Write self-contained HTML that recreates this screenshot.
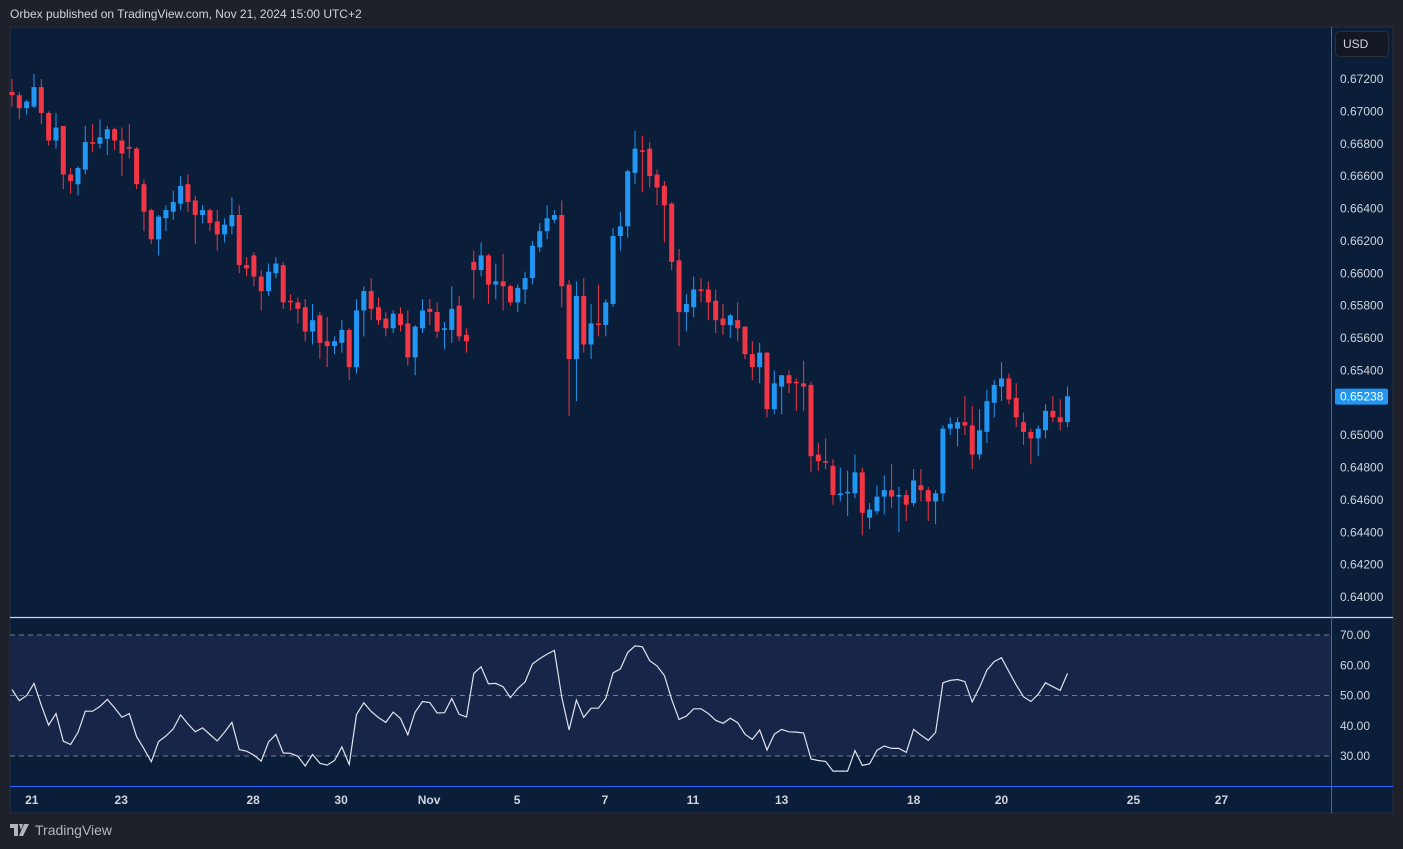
<!DOCTYPE html>
<html><head><meta charset="utf-8"><style>
html,body{margin:0;padding:0;background:#1e2129;width:1403px;height:849px;overflow:hidden;font-family:"Liberation Sans",sans-serif;}
#hdr{position:absolute;left:10px;top:7px;font-size:12px;color:#d1d4dc;}
#brand{position:absolute;left:10px;top:822px;font-size:14px;color:#b2b5be;display:flex;align-items:center;gap:5px;}
svg{position:absolute;left:0;top:0;}
</style></head><body>
<div id="hdr">Orbex published on TradingView.com, Nov 21, 2024 15:00 UTC+2</div>
<div id="brand"><svg style="position:static" width="20" height="12" viewBox="0 0 20 12"><path d="M0 0h8v12H4V4H0z M9 0h4l-2 6z M14 0h5l-6 12h-4z" fill="#b2b5be"/></svg>TradingView</div>
<svg id="chart" width="1403" height="849"></svg>
<script>
const opens=[6712,6710,6702,6703,6715,6699,6682,6691,6661,6655,6664,6681,6680,6683,6689,6682,6678,6677,6655,6639,6621,6634,6638,6643,6655,6645,6636,6639,6632,6624,6629,6636,6605,6611,6598,6589,6600,6605,6583,6582,6579,6564,6574,6558,6555,6557,6565,6542,6577,6589,6579,6572,6566,6575,6569,6548,6566,6578,6576,6565,6565,6580,6562,6607,6602,6611,6593,6595,6592,6582,6590,6597,6616,6626,6633,6636,6593,6547,6586,6556,6569,6568,6581,6623,6629,6662,6676,6677,6661,6654,6643,6608,6576,6579,6590,6590,6583,6572,6568,6571,6567,6550,6542,6551,6516,6530,6537,6533,6532,6531,6488,6484,6481,6463,6464,6464,6477,6449,6453,6462,6466,6462,6463,6458,6469,6466,6459,6464,6504,6504,6508,6506,6488,6502,6520,6530,6535,6523,6508,6502,6498,6503,6515,6511,6508];
const highs=[6720,6712,6707,6723,6720,6700,6699,6691,6665,6666,6691,6692,6695,6691,6690,6690,6692,6678,6658,6640,6636,6642,6651,6660,6661,6648,6642,6640,6639,6634,6647,6642,6610,6613,6602,6606,6610,6607,6587,6585,6584,6581,6576,6573,6561,6571,6566,6584,6592,6597,6585,6576,6577,6579,6577,6568,6584,6584,6582,6570,6592,6586,6566,6614,6619,6612,6606,6612,6593,6593,6601,6620,6631,6642,6639,6645,6596,6595,6597,6581,6593,6584,6628,6638,6664,6688,6685,6681,6664,6657,6644,6615,6587,6598,6597,6595,6590,6581,6575,6582,6567,6558,6557,6551,6540,6537,6540,6535,6546,6533,6495,6498,6485,6480,6478,6488,6480,6458,6469,6475,6482,6468,6466,6479,6479,6468,6466,6506,6511,6511,6524,6518,6516,6528,6534,6545,6538,6532,6514,6504,6506,6519,6524,6522,6530];
const lows=[6703,6695,6698,6702,6692,6679,6677,6652,6649,6648,6661,6675,6677,6673,6676,6660,6671,6652,6626,6618,6611,6626,6633,6639,6638,6618,6631,6626,6614,6619,6624,6600,6598,6592,6577,6586,6597,6578,6577,6569,6558,6556,6547,6542,6550,6551,6534,6538,6561,6571,6568,6561,6563,6564,6543,6537,6563,6568,6560,6553,6557,6558,6551,6584,6598,6581,6584,6577,6580,6576,6581,6593,6613,6621,6631,6579,6512,6521,6551,6547,6561,6561,6579,6614,6622,6655,6650,6653,6642,6619,6602,6555,6564,6573,6582,6571,6563,6562,6560,6558,6547,6534,6532,6511,6513,6513,6526,6515,6515,6477,6478,6479,6457,6459,6450,6461,6438,6442,6451,6451,6455,6440,6447,6456,6459,6447,6445,6459,6500,6493,6500,6479,6485,6495,6511,6521,6519,6505,6494,6482,6487,6498,6508,6503,6505];
const closes=[6710,6702,6706,6715,6699,6682,6690,6661,6657,6665,6681,6680,6684,6689,6682,6674,6677,6655,6638,6621,6635,6639,6644,6654,6644,6636,6639,6631,6624,6630,6636,6605,6603,6598,6589,6601,6606,6582,6582,6578,6564,6571,6557,6555,6558,6565,6542,6577,6589,6578,6571,6566,6575,6568,6548,6567,6577,6576,6564,6566,6578,6561,6558,6602,6611,6593,6595,6592,6582,6591,6597,6617,6626,6634,6636,6592,6547,6586,6556,6569,6568,6582,6623,6629,6663,6677,6675,6660,6653,6642,6607,6576,6581,6590,6589,6582,6571,6568,6574,6566,6550,6542,6551,6516,6532,6537,6532,6532,6530,6487,6484,6483,6463,6464,6465,6477,6452,6454,6462,6466,6462,6463,6457,6472,6466,6459,6464,6504,6507,6508,6506,6488,6503,6521,6531,6535,6522,6511,6502,6498,6504,6515,6511,6508,6524];
const rsi=[52.0,48.3,50.0,54.0,46.8,40.2,44.0,34.9,33.8,37.8,44.8,44.8,46.4,48.7,45.9,42.8,44.0,36.4,32.4,28.1,34.8,36.6,39.0,43.6,40.6,38.0,39.3,37.1,35.0,37.9,41.1,32.1,31.6,30.3,28.3,34.7,37.1,31.0,30.9,29.9,26.7,30.5,27.6,27.0,28.5,33.0,27.2,43.7,47.6,44.7,42.7,41.1,44.5,42.4,37.0,44.5,48.0,47.7,44.2,44.3,49.0,43.8,42.9,57.3,59.5,53.9,54.0,52.9,49.3,52.3,54.5,60.4,62.2,63.7,64.9,49.4,38.6,48.5,42.8,45.8,45.8,49.0,57.5,58.8,64.2,66.4,66.1,61.5,59.8,56.6,48.7,42.1,43.2,45.6,45.6,44.0,41.8,40.8,42.5,41.0,37.2,35.5,38.6,32.0,37.2,38.8,38.0,37.9,37.6,29.0,28.5,28.2,25.0,25.0,25.0,31.8,26.9,27.4,31.9,33.3,32.5,32.5,31.2,38.8,36.9,35.2,37.8,54.2,55.0,55.3,54.6,47.9,52.7,58.4,61.2,62.5,57.9,53.5,49.6,48.0,50.4,54.2,52.9,51.7,57.3];
const priceTicks=[0.672,0.670,0.668,0.666,0.664,0.662,0.660,0.658,0.656,0.654,0.652,0.650,0.648,0.646,0.644,0.642,0.640];
const rsiTicks=[70,60,50,40,30];
const timeLabels=["21","23","28","30","Nov","5","7","11","13","18","20","25","27"];
const timeIdx=[2.7,14.9,32.9,44.9,56.9,68.9,80.9,92.9,105,123,135,153,165];
const lastPrice=0.65238;

const NS="http://www.w3.org/2000/svg";
const svg=document.getElementById('chart');
function el(tag,attrs,parent){const e=document.createElementNS(NS,tag);for(const k in attrs)e.setAttribute(k,attrs[k]);(parent||svg).appendChild(e);return e;}
const xAt=i=>12+7.33*i;
const yP=p=>79+(0.672-p)*16187.5;
const yR=r=>695.5-(r-50)*3.025;

let e;
e=el('rect',{x:10,y:27,width:1383,height:786,fill:'#0a1e3a',stroke:'#2a2e39'});


e=el('rect',{x:10,y:yR(70),width:1321,height:yR(30)-yR(70),fill:'#172549'});


[70,50,30].forEach(v=>{
  e=el('line',{x1:10,x2:1331,y1:yR(v),y2:yR(v),stroke:'#787b86','stroke-dasharray':'5,4','stroke-width':1});
  
  
});
e=el('line',{x1:10,x2:1393,y1:617.5,y2:617.5,stroke:'#d1d4dc','stroke-width':1.2});


e=el('line',{x1:10,x2:1393,y1:786.5,y2:786.5,stroke:'#2962ff','stroke-width':1});


e=el('line',{x1:1331.5,x2:1331.5,y1:27,y2:813,stroke:'#2962ff','stroke-width':1});



for(let i=0;i<opens.length;i++){
  const o=opens[i]/10000,c=closes[i]/10000,h=highs[i]/10000,l=lows[i]/10000;
  const col=c>=o?'#2196f3':'#f23645';
  const g=el('g',{});
  
  
  const x=xAt(i);
  el('line',{x1:x,x2:x,y1:yP(h),y2:yP(l),stroke:col,'stroke-width':1},g);
  const top=Math.min(yP(o),yP(c)),bh=Math.max(1.2,Math.abs(yP(o)-yP(c)));
  el('rect',{x:x-2.5,y:top,width:5,height:bh,fill:col},g);
}
let d='';
rsi.forEach((v,i)=>{d+=(i?'L':'M')+xAt(i).toFixed(1)+' '+yR(v).toFixed(1);});
e=el('path',{d:d,fill:'none',stroke:'#e0e3eb','stroke-width':1.2});



priceTicks.forEach(p=>{
  if(Math.abs(yP(p)-yP(lastPrice))<14) return;
  const t=el('text',{x:1340,y:yP(p)+4,fill:'#d1d4dc','font-size':12,'font-family':'Liberation Sans, sans-serif'});
  t.textContent=p.toFixed(5);
  
  
});
rsiTicks.forEach(v=>{
  const t=el('text',{x:1340,y:yR(v)+4,fill:'#d1d4dc','font-size':12,'font-family':'Liberation Sans, sans-serif'});
  t.textContent=v.toFixed(2);
  
  
});
timeLabels.forEach((s,k)=>{
  const t=el('text',{x:xAt(timeIdx[k]),y:804,fill:'#d1d4dc','font-size':12,'font-weight':'bold','text-anchor':'middle','font-family':'Liberation Sans, sans-serif'});
  t.textContent=s;
  
  
});
e=el('rect',{x:1335,y:yP(lastPrice)-8,width:53,height:16,fill:'#2196f3',rx:2});


e=el('text',{x:1340,y:yP(lastPrice)+4,fill:'#ffffff','font-size':12,'font-family':'Liberation Sans, sans-serif'});
e.textContent=lastPrice.toFixed(5);


e=el('rect',{x:1335.5,y:31.5,width:53,height:25,fill:'#131722',stroke:'#2a2e39',rx:4});


e=el('text',{x:1343,y:48,fill:'#d1d4dc','font-size':12,'font-family':'Liberation Sans, sans-serif'});
e.textContent='USD';


</script>
</body></html>
